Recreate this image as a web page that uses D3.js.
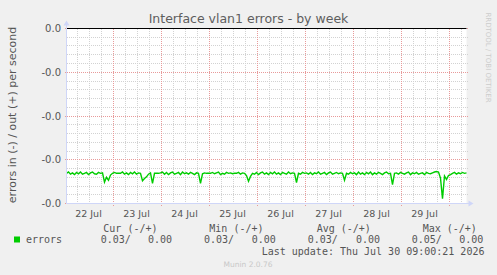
<!DOCTYPE html>
<html>
<head>
<meta charset="utf-8">
<script src="https://cdn.jsdelivr.net/npm/d3@7"></script>
<style>
  html, body { margin: 0; padding: 0; background: #f0f0f0; }
  svg { display: block; }
  text { font-family: 'DejaVu Sans', sans-serif; fill: #555; }
  .mono { font-family: 'DejaVu Sans Mono', monospace; font-size: 10px; }
</style>
</head>
<body>
<script>
// hourly "in" error rate (plotted as negative), Jul 22 01:00 .. Jul 30 09:00
const errorsIn = [
  0.0331, 0.0328, 0.0333, 0.0330, 0.0334, 0.0329, 0.0332, 0.0328, 0.0333, 0.0331, 0.0329, 0.0334,
  0.0330, 0.0328, 0.0332, 0.0333, 0.0329, 0.0331, 0.0330, 0.0351, 0.0340, 0.0347, 0.0335, 0.0331,
  0.0329, 0.0331, 0.0331, 0.0331, 0.0328, 0.0333, 0.0330, 0.0334, 0.0329, 0.0332, 0.0328, 0.0333,
  0.0330, 0.0331, 0.0348, 0.0343, 0.0339, 0.0333, 0.0330, 0.0354, 0.0331, 0.0331, 0.0331, 0.0330,
  0.0328, 0.0333, 0.0329, 0.0334, 0.0330, 0.0328, 0.0333, 0.0331, 0.0329, 0.0334, 0.0328, 0.0332,
  0.0330, 0.0333, 0.0329, 0.0331, 0.0334, 0.0330, 0.0331, 0.0354, 0.0332, 0.0330, 0.0331, 0.0331,
  0.0331, 0.0329, 0.0332, 0.0330, 0.0328, 0.0334, 0.0331, 0.0333, 0.0329, 0.0331, 0.0330, 0.0332,
  0.0331, 0.0331, 0.0329, 0.0333, 0.0330, 0.0331, 0.0336, 0.0349, 0.0338, 0.0331, 0.0333, 0.0329,
  0.0334, 0.0330, 0.0328, 0.0333, 0.0330, 0.0334, 0.0329, 0.0332, 0.0328, 0.0333, 0.0330, 0.0334,
  0.0329, 0.0331, 0.0333, 0.0328, 0.0332, 0.0330, 0.0331, 0.0352, 0.0331, 0.0333, 0.0329, 0.0331,
  0.0330, 0.0333, 0.0329, 0.0334, 0.0330, 0.0332, 0.0328, 0.0333, 0.0331, 0.0329, 0.0334, 0.0330,
  0.0328, 0.0333, 0.0331, 0.0329, 0.0332, 0.0330, 0.0331, 0.0347, 0.0331, 0.0333, 0.0329, 0.0332,
  0.0330, 0.0334, 0.0328, 0.0333, 0.0330, 0.0334, 0.0329, 0.0332, 0.0328, 0.0334, 0.0330, 0.0333,
  0.0329, 0.0331, 0.0334, 0.0330, 0.0328, 0.0332, 0.0331, 0.0357, 0.0331, 0.0330, 0.0333, 0.0329,
  0.0331, 0.0333, 0.0330, 0.0328, 0.0334, 0.0330, 0.0332, 0.0329, 0.0333, 0.0331, 0.0330, 0.0334,
  0.0329, 0.0331, 0.0332, 0.0330, 0.0328, 0.0327, 0.0328, 0.0342, 0.0389, 0.0337, 0.0345, 0.0336,
  0.0334, 0.0331, 0.0329, 0.0333, 0.0330, 0.0332, 0.0329, 0.0331, 0.0330
]
const startTime = Date.UTC(2026, 6, 22, 1)
const endTime = Date.UTC(2026, 6, 30, 9)
const yTicks = [0, -0.01, -0.02, -0.03, -0.04]

const legendHeaders = ['Cur (-/+)', 'Min (-/+)', 'Avg (-/+)', 'Max (-/+)']
const legendIn = ['0.03/', '0.03/', '0.03/', '0.05/']
const legendOut = ['0.00', '0.00', '0.00', '0.00']

const W = 497
const H = 275
const plot = { left: 66.5, right: 466.5, top: 28.5, bottom: 203.5 }

const svg = d3.select('body').append('svg')
  .attr('width', W)
  .attr('height', H)

svg.append('rect').attr('width', W).attr('height', H).attr('fill', '#f0f0f0')
svg.append('rect')
  .attr('x', plot.left).attr('y', plot.top)
  .attr('width', plot.right - plot.left).attr('height', plot.bottom - plot.top)
  .attr('fill', '#fff')

const x = d3.scaleUtc()
  .domain([new Date(startTime), new Date(endTime)])
  .range([plot.left, plot.right])

const y = d3.scaleLinear()
  .domain([-0.04, 0])
  .range([plot.bottom, plot.top])

const grid = svg.append('g')
  .attr('shape-rendering', 'crispEdges')
  .attr('stroke-dasharray', '1,1')

// minor grid
grid.selectAll('.vminor')
  .data(d3.utcHour.every(6).range(x.domain()[0], x.domain()[1]))
  .enter().append('line')
  .attr('x1', d => Math.round(x(d)) + 0.5).attr('x2', d => Math.round(x(d)) + 0.5)
  .attr('y1', plot.top).attr('y2', plot.bottom)
  .attr('stroke', '#d2d2d2')

grid.selectAll('.hminor')
  .data(d3.range(0, 21).map(i => -0.002 * i))
  .enter().append('line')
  .attr('x1', plot.left).attr('x2', plot.right + 2)
  .attr('y1', d => Math.floor(y(d)) + 0.5).attr('y2', d => Math.floor(y(d)) + 0.5)
  .attr('stroke', '#d2d2d2')

// major grid
grid.selectAll('.vmajor')
  .data(d3.utcDay.range(x.domain()[0], x.domain()[1]))
  .enter().append('line')
  .attr('x1', d => Math.round(x(d)) + 0.5).attr('x2', d => Math.round(x(d)) + 0.5)
  .attr('y1', plot.top).attr('y2', plot.bottom + 3)
  .attr('stroke', '#e89a9a')

grid.selectAll('.hmajor')
  .data(yTicks)
  .enter().append('line')
  .attr('x1', plot.left - 2).attr('x2', plot.right + 2)
  .attr('y1', d => Math.floor(y(d)) + 0.5).attr('y2', d => Math.floor(y(d)) + 0.5)
  .attr('stroke', '#e89a9a')

// data line
const line = d3.line()
  .x((d, i) => x(new Date(startTime + i * 3600e3)))
  .y(d => y(-d))

svg.append('path')
  .datum(errorsIn)
  .attr('d', line)
  .attr('fill', 'none')
  .attr('stroke', '#00cc00')
  .attr('stroke-width', 1.4)

// zero rule
svg.append('line')
  .attr('x1', plot.left).attr('x2', plot.right)
  .attr('y1', y(0)).attr('y2', y(0))
  .attr('stroke', '#000')
  .attr('stroke-width', 1.2)

// axes with arrows
const axisColor = '#cfd6f8'
svg.append('line')
  .attr('x1', plot.left).attr('x2', plot.left)
  .attr('y1', plot.bottom).attr('y2', 22)
  .attr('stroke', axisColor)
svg.append('line')
  .attr('x1', plot.left).attr('x2', 470)
  .attr('y1', plot.bottom).attr('y2', plot.bottom)
  .attr('stroke', axisColor)
svg.append('path')
  .attr('d', `M${plot.left - 3},${plot.top - 3}L${plot.left},${plot.top - 8}L${plot.left + 3},${plot.top - 3}Z`)
  .attr('fill', axisColor)
svg.append('path')
  .attr('d', `M${plot.right + 2},${plot.bottom - 3}L${plot.right + 7},${plot.bottom}L${plot.right + 2},${plot.bottom + 3}Z`)
  .attr('fill', axisColor)

// tick labels
svg.selectAll('.ylab')
  .data(yTicks)
  .enter().append('text')
  .attr('x', 61)
  .attr('y', d => y(d) + 3.5)
  .attr('text-anchor', 'end')
  .attr('font-size', 10)
  .text(d => (d < 0 ? '-' : '') + Math.abs(d).toFixed(1))

svg.selectAll('.xlab')
  .data(d3.utcDay.range(Date.UTC(2026, 6, 22), Date.UTC(2026, 6, 30)))
  .enter().append('text')
  .attr('x', d => x(d3.utcHour.offset(d, 12)))
  .attr('y', 216.5)
  .attr('text-anchor', 'middle')
  .attr('font-size', 9.5)
  .text(d3.utcFormat('%-d %b'))

// titles
svg.append('text')
  .attr('x', 248.5).attr('y', 23)
  .attr('text-anchor', 'middle')
  .attr('font-size', 12.5)
  .style('fill', '#5e5e5e')
  .text('Interface vlan1 errors - by week')

svg.append('text')
  .attr('transform', 'translate(15.5,115) rotate(-90)')
  .attr('text-anchor', 'middle')
  .attr('font-size', 11)
  .text('errors in (-) / out (+) per second')

svg.append('text')
  .attr('transform', 'translate(485.5,57.5) rotate(90)')
  .attr('text-anchor', 'middle')
  .attr('font-size', 7)
  .style('fill', '#cccccc')
  .text('RRDTOOL / TOBI OETIKER')

// legend
const headX = [103.3, 209.3, 316.7, 422.7]
const inX = [100.7, 204, 307.7, 411.7]
const outX = [148, 251.7, 356, 459.3]

svg.selectAll('.lhead')
  .data(legendHeaders)
  .enter().append('text')
  .attr('class', 'mono')
  .attr('x', (d, i) => headX[i]).attr('y', 231.5)
  .text(d => d)

svg.append('rect')
  .attr('x', 14).attr('y', 236.5)
  .attr('width', 6).attr('height', 6)
  .attr('fill', '#00cc00')

svg.append('text')
  .attr('class', 'mono')
  .attr('x', 26).attr('y', 243)
  .text('errors')

svg.selectAll('.lin')
  .data(legendIn)
  .enter().append('text')
  .attr('class', 'mono')
  .attr('x', (d, i) => inX[i]).attr('y', 243)
  .text(d => d)

svg.selectAll('.lout')
  .data(legendOut)
  .enter().append('text')
  .attr('class', 'mono')
  .attr('x', (d, i) => outX[i]).attr('y', 243)
  .text(d => d)

svg.append('text')
  .attr('class', 'mono')
  .attr('x', 261.7).attr('y', 254.5)
  .style('white-space', 'pre')
  .text('Last update: Thu Jul 30 09:00:21 2026')

svg.append('text')
  .attr('x', 248).attr('y', 267)
  .attr('text-anchor', 'middle')
  .attr('font-size', 7.5)
  .style('fill', '#c8c8c8')
  .text('Munin 2.0.76')
</script>
</body>
</html>
